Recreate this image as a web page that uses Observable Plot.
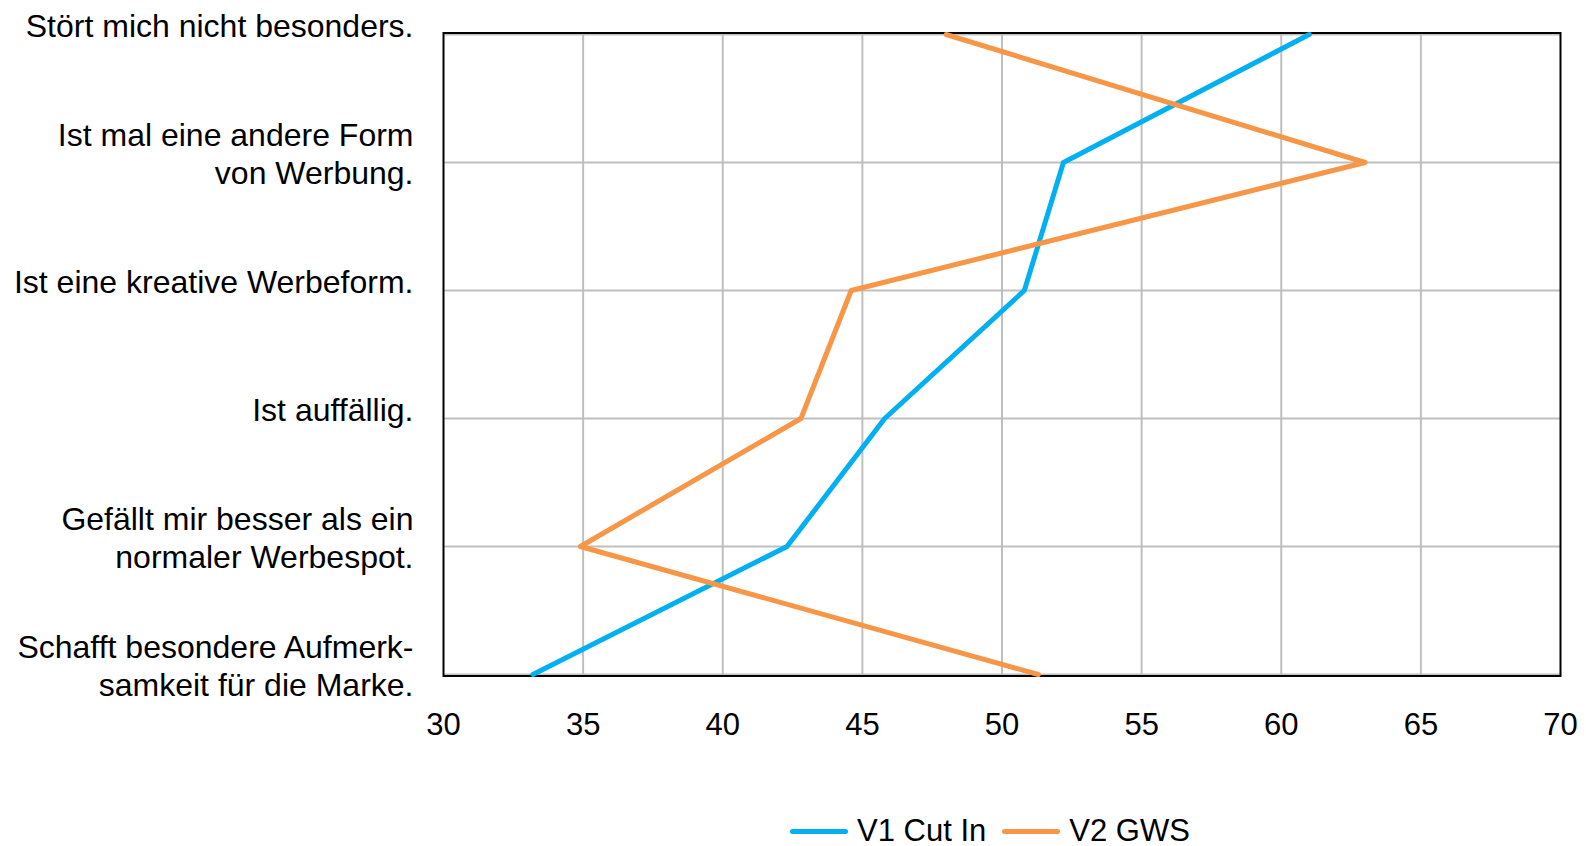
<!DOCTYPE html>
<html>
<head>
<meta charset="utf-8">
<script src="https://cdn.jsdelivr.net/npm/d3@7"></script>
<script src="https://cdn.jsdelivr.net/npm/@observablehq/plot@0.6"></script>
<style>
  html, body { margin: 0; padding: 0; background: #fff; }
  body { width: 1586px; height: 846px; overflow: hidden; font-family: "Liberation Sans", Arial, sans-serif; }
  #legend { height: 66px; box-sizing: border-box; padding-top: 36px; padding-left: 790px; display: flex; align-items: center; font-size: 31px; color: #000; }
  .sw { width: 58px; height: 5px; border-radius: 3px; margin-right: 9px; }
  .item { display: flex; align-items: center; margin-right: 16px; }
</style>
</head>
<body>
<div id="chart"></div>
<div id="legend"></div>
<script>
const categories = [
  "Stört mich nicht besonders.",
  "Ist mal eine andere Form\nvon Werbung.",
  "Ist eine kreative Werbeform.",
  "Ist auffällig.",
  "Gefällt mir besser als ein\nnormaler Werbespot.",
  "Schafft besondere Aufmerk-\nsamkeit für die Marke."
];
const seriesNames = ["V1 Cut In", "V2 GWS"];
const seriesColors = ["#00B0F0", "#F79646"];
const v1CutIn = [61.0, 52.2, 50.8, 45.8, 42.3, 33.2];
const v2GWS = [48.0, 63.0, 44.6, 42.8, 34.9, 51.3];
const xTicks = [30, 35, 40, 45, 50, 55, 60, 65, 70];

const data = [
  ...categories.map((c, i) => ({series: seriesNames[0], cat: c, value: v1CutIn[i]})),
  ...categories.map((c, i) => ({series: seriesNames[1], cat: c, value: v2GWS[i]}))
];

const chart = Plot.plot({
  width: 1586,
  height: 780,
  marginLeft: 443,
  marginRight: 26,
  marginTop: 32.5,
  marginBottom: 104.5,
  style: {fontFamily: '"Liberation Sans", Arial, sans-serif', color: "#000", background: "#fff"},
  x: {domain: [30, 70], label: null},
  y: {type: "point", domain: categories, padding: 0, label: null},
  color: {domain: seriesNames, range: seriesColors},
  marks: [
    Plot.gridX(xTicks.slice(1, -1), {stroke: "#BFBFBF", strokeOpacity: 1, strokeWidth: 2}),
    Plot.gridY(categories, {stroke: "#BFBFBF", strokeOpacity: 1, strokeWidth: 2}),
    Plot.frame({stroke: "#000", strokeWidth: 2}),
    Plot.axisX(xTicks, {tickSize: 0, tickPadding: 37, fontSize: 31, label: null}),
    Plot.axisY(categories, {tickSize: 0, tickPadding: 30, fontSize: 32, lineHeight: 1.2, dy: -10, label: null}),
    Plot.line(data, {x: "value", y: "cat", z: "series", stroke: "series", strokeWidth: 5, strokeLinejoin: "round", strokeLinecap: "round"})
  ]
});
document.getElementById("chart").appendChild(chart);

const legend = document.getElementById("legend");
seriesNames.forEach((name, i) => {
  const item = document.createElement("div");
  item.className = "item";
  const sw = document.createElement("div");
  sw.className = "sw";
  sw.style.background = seriesColors[i];
  const label = document.createElement("span");
  label.textContent = name;
  item.appendChild(sw);
  item.appendChild(label);
  legend.appendChild(item);
});
</script>
</body>
</html>
